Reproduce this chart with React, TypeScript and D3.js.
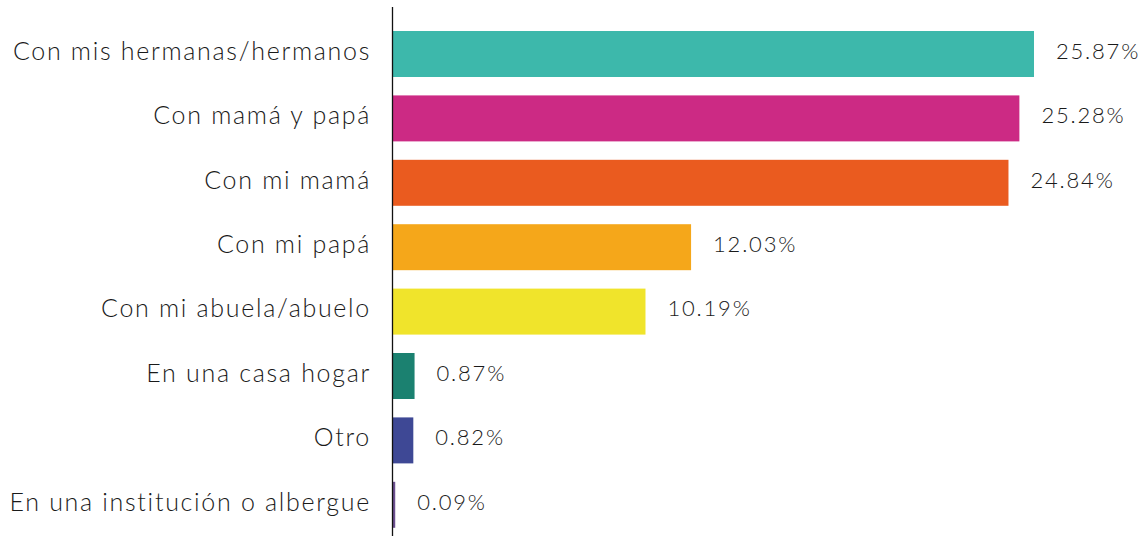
import React from 'react';
import * as d3 from 'd3';

const categories = [
  'Con mis hermanas/hermanos',
  'Con mamá y papá',
  'Con mi mamá',
  'Con mi papá',
  'Con mi abuela/abuelo',
  'En una casa hogar',
  'Otro',
  'En una institución o albergue',
];
const values = [25.87, 25.28, 24.84, 12.03, 10.19, 0.87, 0.82, 0.09];
const colors = ['#3db8ab', '#cc2a84', '#ea5b1f', '#f5a71a', '#f0e42b', '#1b8170', '#3e4895', '#6b4f8f'];

const W = 1147;
const H = 536;
const axisX = 393;
const font = 'Lato, "Open Sans", sans-serif';

export default function App() {
  const x = d3.scaleLinear().domain([0, 25.87]).range([axisX, 1034]);
  const y = d3.scaleBand<string>()
    .domain(categories)
    .range([21.8, 537])
    .paddingInner(0.286)
    .paddingOuter(0.143);

  return (
    <svg width={W} height={H} style={{ position: 'absolute', left: 0, top: 0, background: '#fff' }}>
      {categories.map((c, i) => {
        const yy = y(c)!;
        const mid = yy + y.bandwidth() / 2;
        return (
          <g key={c}>
            <rect x={axisX} y={yy} width={x(values[i]) - axisX} height={y.bandwidth()} fill={colors[i]} />
            <text x={371} y={mid - 3} dy="0.35em" textAnchor="end" fontFamily={font} fontWeight={300}
              fontSize={25} fill="#1a1a1a" letterSpacing={1.7}>{c}</text>
            <text x={x(values[i]) + 22} y={mid - 3} dy="0.35em" fontFamily={font} fontWeight={300}
              fontSize={22} fill="#1a1a1a" letterSpacing={1.8}>{values[i].toFixed(2) + '%'}</text>
          </g>
        );
      })}
      <line x1={axisX - 0.5} x2={axisX - 0.5} y1={7} y2={H} stroke="#111" strokeWidth={1.3} />
    </svg>
  );
}
